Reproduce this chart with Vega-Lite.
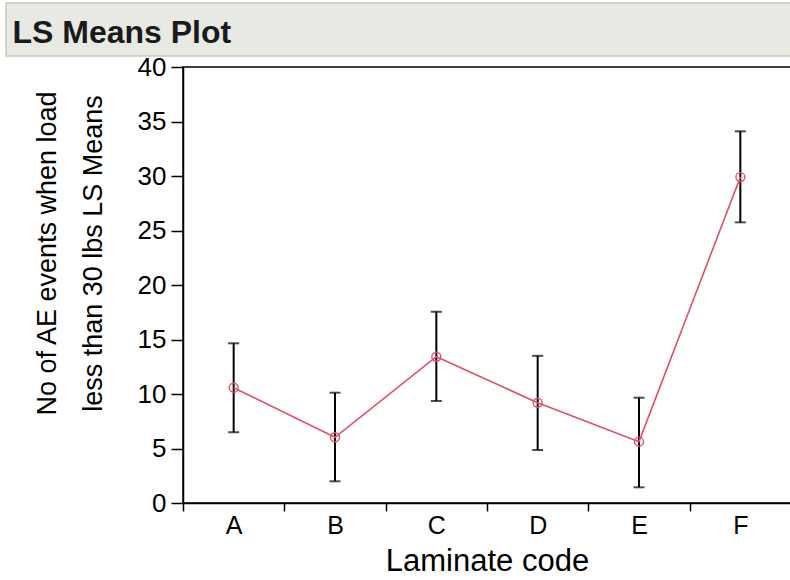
{
  "$schema": "https://vega.github.io/schema/vega-lite/v6.json",
  "padding": {"left": 5, "top": 2, "right": 0, "bottom": 0},
  "background": "#ffffff",
  "config": {
    "font": "Liberation Sans",
    "axis": {"grid": false, "domainColor": "#000000", "tickColor": "#000000", "labelColor": "#000000", "titleColor": "#000000", "titleFontWeight": "normal", "domainWidth": 1.5, "tickWidth": 1.5}
  },
  "spacing": -4,
  "vconcat": [
    {
      "width": 785,
      "height": 53,
      "data": {"values": []},
      "mark": "point",
      "encoding": {
        "x": {"field": "v", "type": "quantitative",
          "axis": {"orient": "top", "domain": false, "ticks": false, "labels": false, "title": "LS Means Plot", "titleX": 6, "titleY": 39, "titleAlign": "left", "titleAnchor": null, "titleBaseline": "alphabetic", "titleAngle": 0, "titleFont": "Liberation Sans", "titleFontSize": 32, "titleFontWeight": "bold", "titleColor": "#1a1a1a"}}
      },
      "view": {"fill": "#e9e9e4", "stroke": "#c9c9c1", "strokeWidth": 1.5}
    },
    {
      "spacing": 25,
      "hconcat": [
        {
          "width": 1,
          "height": 1,
          "data": {"values": []},
          "mark": "point",
          "view": {"stroke": null}
        },
        {
          "width": 608,
          "height": 436,
          "view": {"stroke": "#000000", "strokeWidth": 1.5},
          "data": {"values": [
            {"code": "A", "mean": 10.58, "lo": 6.49, "hi": 14.65},
            {"code": "B", "mean": 6.03, "lo": 1.99, "hi": 10.12},
            {"code": "C", "mean": 13.42, "lo": 9.36, "hi": 17.55},
            {"code": "D", "mean": 9.2, "lo": 4.86, "hi": 13.5},
            {"code": "E", "mean": 5.63, "lo": 1.44, "hi": 9.66},
            {"code": "F", "mean": 29.9, "lo": 25.75, "hi": 34.1}
          ]},
          "encoding": {
            "x": {"field": "code", "type": "nominal", "sort": null,
              "scale": {"paddingInner": 0, "paddingOuter": 0},
              "axis": {"title": "Laminate code", "titleFontSize": 31, "titlePadding": 8, "labelAngle": 0, "labelFontSize": 25, "labelPadding": 2, "tickSize": 8, "tickBand": "extent"}}
          },
          "layer": [
            {
              "mark": {"type": "rule", "color": "#000000", "strokeWidth": 2},
              "encoding": {
                "y": {"field": "lo", "type": "quantitative", "scale": {"domain": [0, 40], "nice": false},
                  "axis": {"title": ["No of AE events when load", "less than 30 lbs LS Means"], "titleFontSize": 27, "titleLineHeight": 46, "titlePadding": 30, "titleY": 186, "values": [0, 5, 10, 15, 20, 25, 30, 35, 40], "labelFontSize": 26, "labelPadding": 5, "tickSize": 12}},
                "y2": {"field": "hi"}
              }
            },
            {
              "mark": {"type": "tick", "color": "#000000", "size": 11, "thickness": 2},
              "encoding": {"y": {"field": "lo", "type": "quantitative"}}
            },
            {
              "mark": {"type": "tick", "color": "#000000", "size": 11, "thickness": 2},
              "encoding": {"y": {"field": "hi", "type": "quantitative"}}
            },
            {
              "mark": {"type": "line", "color": "#e0506a", "strokeWidth": 1.6},
              "encoding": {"y": {"field": "mean", "type": "quantitative"}}
            },
            {
              "mark": {"type": "point", "shape": "circle", "filled": false, "color": "#e0506a", "size": 80, "strokeWidth": 1.4, "opacity": 1},
              "encoding": {"y": {"field": "mean", "type": "quantitative"}}
            }
          ]
        }
      ]
    }
  ]
}
